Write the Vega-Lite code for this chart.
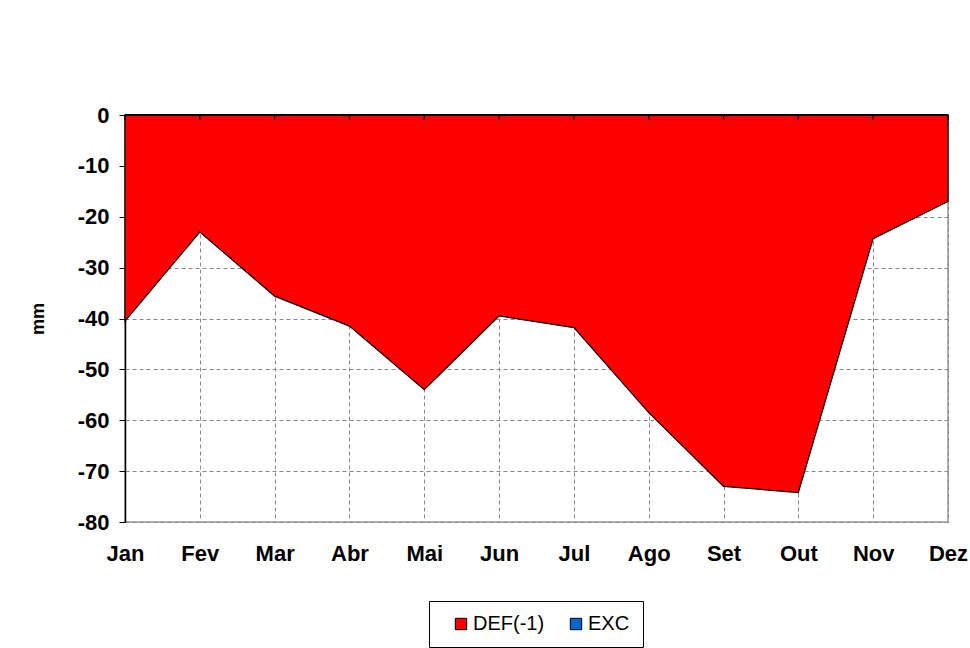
{
  "$schema": "https://vega.github.io/schema/vega-lite/v6.json",
  "width": 823,
  "height": 407,
  "autosize": {"type": "none"},
  "padding": {"left": 125, "top": 115, "right": 22, "bottom": 126},
  "background": "white",
  "config": {
    "font": "Liberation Sans",
    "view": {"stroke": "#999999", "strokeWidth": 1.5}
  },
  "data": {
    "values": [
      {"month": "Jan", "series": "DEF(-1)", "value": -40.5},
      {"month": "Fev", "series": "DEF(-1)", "value": -23},
      {"month": "Mar", "series": "DEF(-1)", "value": -35.6},
      {"month": "Abr", "series": "DEF(-1)", "value": -41.5},
      {"month": "Mai", "series": "DEF(-1)", "value": -54},
      {"month": "Jun", "series": "DEF(-1)", "value": -39.5},
      {"month": "Jul", "series": "DEF(-1)", "value": -41.8},
      {"month": "Ago", "series": "DEF(-1)", "value": -58.5},
      {"month": "Set", "series": "DEF(-1)", "value": -73},
      {"month": "Out", "series": "DEF(-1)", "value": -74.2},
      {"month": "Nov", "series": "DEF(-1)", "value": -24.3},
      {"month": "Dez", "series": "DEF(-1)", "value": -17},
      {"month": "Jan", "series": "EXC", "value": 0},
      {"month": "Fev", "series": "EXC", "value": 0},
      {"month": "Mar", "series": "EXC", "value": 0},
      {"month": "Abr", "series": "EXC", "value": 0},
      {"month": "Mai", "series": "EXC", "value": 0},
      {"month": "Jun", "series": "EXC", "value": 0},
      {"month": "Jul", "series": "EXC", "value": 0},
      {"month": "Ago", "series": "EXC", "value": 0},
      {"month": "Set", "series": "EXC", "value": 0},
      {"month": "Out", "series": "EXC", "value": 0},
      {"month": "Nov", "series": "EXC", "value": 0},
      {"month": "Dez", "series": "EXC", "value": 0}
    ]
  },
  "layer": [
    {
      "mark": {"type": "area", "stroke": "black", "strokeWidth": 1.2, "opacity": 1},
      "encoding": {
        "x": {
          "field": "month",
          "type": "ordinal",
          "sort": ["Jan", "Fev", "Mar", "Abr", "Mai", "Jun", "Jul", "Ago", "Set", "Out", "Nov", "Dez"],
          "scale": {"type": "point", "padding": 0},
          "axis": {
            "title": null,
            "labelAngle": 0,
            "labelFontSize": 22,
            "labelFontWeight": "bold",
            "labelColor": "black",
            "labelBaseline": "alphabetic",
            "labelPadding": 38,
            "ticks": false,
            "domain": false,
            "grid": true,
            "gridColor": "#888888",
            "gridDash": [4, 3],
            "gridWidth": 1
          }
        },
        "y": {
          "field": "value",
          "type": "quantitative",
          "stack": null,
          "scale": {"domain": [-80, 0], "nice": false},
          "axis": {
            "title": "mm",
            "titleFontSize": 18,
            "titleFontWeight": "bold",
            "titleColor": "black",
            "titlePadding": 30,
            "values": [-80, -70, -60, -50, -40, -30, -20, -10, 0],
            "labelExpr": "datum.value + ''",
            "labelFontSize": 22,
            "labelFontWeight": "bold",
            "labelColor": "black",
            "labelPadding": 10,
            "tickColor": "black",
            "tickSize": 6,
            "domainColor": "black",
            "domainWidth": 1.5,
            "grid": true,
            "gridColor": "#888888",
            "gridDash": [4, 3],
            "gridWidth": 1
          }
        },
        "color": {
          "field": "series",
          "type": "nominal",
          "scale": {"domain": ["DEF(-1)", "EXC"], "range": ["#FF0000", "#0066CC"]},
          "legend": {
            "title": null,
            "orient": "none",
            "legendX": 304,
            "legendY": 486,
            "direction": "horizontal",
            "strokeColor": "black",
            "fillColor": "white",
            "padding": 13,
            "columnPadding": 12,
            "symbolOffset": 9,
            "symbolType": "square",
            "symbolSize": 130,
            "symbolStrokeColor": "black",
            "symbolStrokeWidth": 1,
            "symbolOpacity": 1,
            "labelFontSize": 20,
            "labelColor": "black",
            "labelOffset": 2
          }
        }
      }
    },
    {
      "transform": [{"filter": "datum.series == 'DEF(-1)'"}],
      "mark": {"type": "rule", "color": "black", "strokeWidth": 1.2},
      "encoding": {
        "x": {
          "field": "month",
          "type": "ordinal",
          "sort": ["Jan", "Fev", "Mar", "Abr", "Mai", "Jun", "Jul", "Ago", "Set", "Out", "Nov", "Dez"]
        },
        "y": {"datum": 0},
        "y2": {"datum": -1}
      }
    },
    {
      "mark": {"type": "rule", "color": "black", "strokeWidth": 1.5},
      "encoding": {"y": {"datum": 0}}
    }
  ]
}
